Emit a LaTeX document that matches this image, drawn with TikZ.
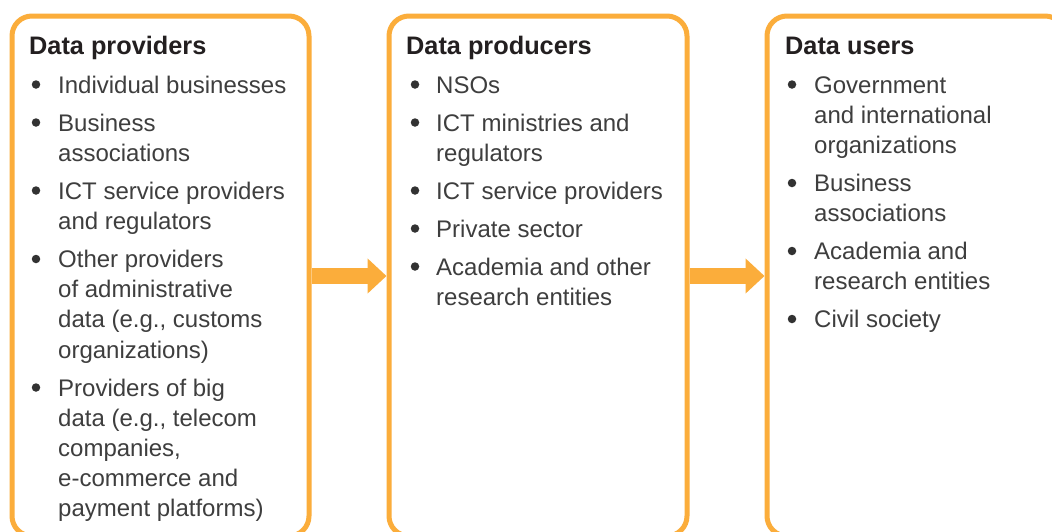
\documentclass[tikz,border=0pt]{standalone}
\usepackage{fontspec}
\setmainfont{Liberation Sans}
\usetikzlibrary{arrows.meta}
\definecolor{boxorange}{RGB}{251,173,59}
\definecolor{bodygray}{RGB}{62,62,62}
\definecolor{titleblack}{RGB}{35,31,32}
\newcommand{\mlines}[1]{\vtop{\baselineskip=30.2pt\lineskiplimit=-100pt\relax#1}}
\newcommand{\mline}[1]{\hbox{#1}}
\begin{document}
\begin{tikzpicture}[x=1pt,y=-1pt,
  panel/.style={draw=boxorange, line width=5pt, rounded corners=20pt, inner sep=0pt, minimum height=520pt},
  flow/.style={draw=boxorange, line width=16pt, -{Triangle[length=19pt,width=34pt]}},
  heading/.style={anchor=base west, inner sep=0pt, text=titleblack, font=\fontsize{25.3}{30}\selectfont\bfseries},
  item/.style={anchor=base west, inner sep=0pt, text=bodygray, font=\fontsize{24}{30.2}\selectfont},
  dot/.style={circle, fill=bodygray!80!black, inner sep=0pt, minimum size=8.5pt}]
\clip (0,0) rectangle (1052,531);
\fill[white] (0,0) rectangle (1052,531);
% panels
\node[panel, minimum width=297pt] (b1) at (160.5,276) {};
\node[panel, minimum width=298pt] (b2) at (538,276) {};
\node[panel, minimum width=298pt] (b3) at (916,276) {};
% arrows
\draw[flow] (b1.east) -- (b2.west);
\draw[flow] (b2.east) -- (b3.west);
% panel 1
\node[heading] (h1) at (29,54) {Data providers};
\node[dot] (d11) at (36,84.5) {};
\node[item] (i11) at (58,93) {Individual businesses};
\node[dot] (d12) at (36,122.5) {};
\node[item] (i12) at (58,131) {\mlines{\mline{Business}\mline{associations}}};
\node[dot] (d13) at (36,190.5) {};
\node[item] (i13) at (58,199) {\mlines{\mline{ICT service providers}\mline{and regulators}}};
\node[dot] (d14) at (36,259) {};
\node[item] (i14) at (58,267.5) {\mlines{\mline{Other providers}\mline{of administrative}\mline{data (e.g., customs}\mline{organizations)}}};
\node[dot] (d15) at (36,387.5) {};
\node[item] (i15) at (58,396) {\mlines{\mline{Providers of big}\mline{data (e.g., telecom}\mline{companies,}\mline{e-commerce and}\mline{payment platforms)}}};
% panel 2
\node[heading] (h2) at (406,54) {Data producers};
\node[dot] (d21) at (415,84.5) {};
\node[item] (i21) at (436,93) {NSOs};
\node[dot] (d22) at (415,122.5) {};
\node[item] (i22) at (436,131) {\mlines{\mline{ICT ministries and}\mline{regulators}}};
\node[dot] (d23) at (415,190.5) {};
\node[item] (i23) at (436,199) {ICT service providers};
\node[dot] (d24) at (415,228.5) {};
\node[item] (i24) at (436,237) {Private sector};
\node[dot] (d25) at (415,266.5) {};
\node[item] (i25) at (436,275) {\mlines{\mline{Academia and other}\mline{research entities}}};
% panel 3
\node[heading] (h3) at (785,54) {Data users};
\node[dot] (d31) at (792,84.5) {};
\node[item] (i31) at (814,93) {\mlines{\mline{Government}\mline{and international}\mline{organizations}}};
\node[dot] (d32) at (792,183) {};
\node[item] (i32) at (814,191.5) {\mlines{\mline{Business}\mline{associations}}};
\node[dot] (d33) at (792,251) {};
\node[item] (i33) at (814,259.5) {\mlines{\mline{Academia and}\mline{research entities}}};
\node[dot] (d34) at (792,319) {};
\node[item] (i34) at (814,327.5) {Civil society};
\end{tikzpicture}
\end{document}
